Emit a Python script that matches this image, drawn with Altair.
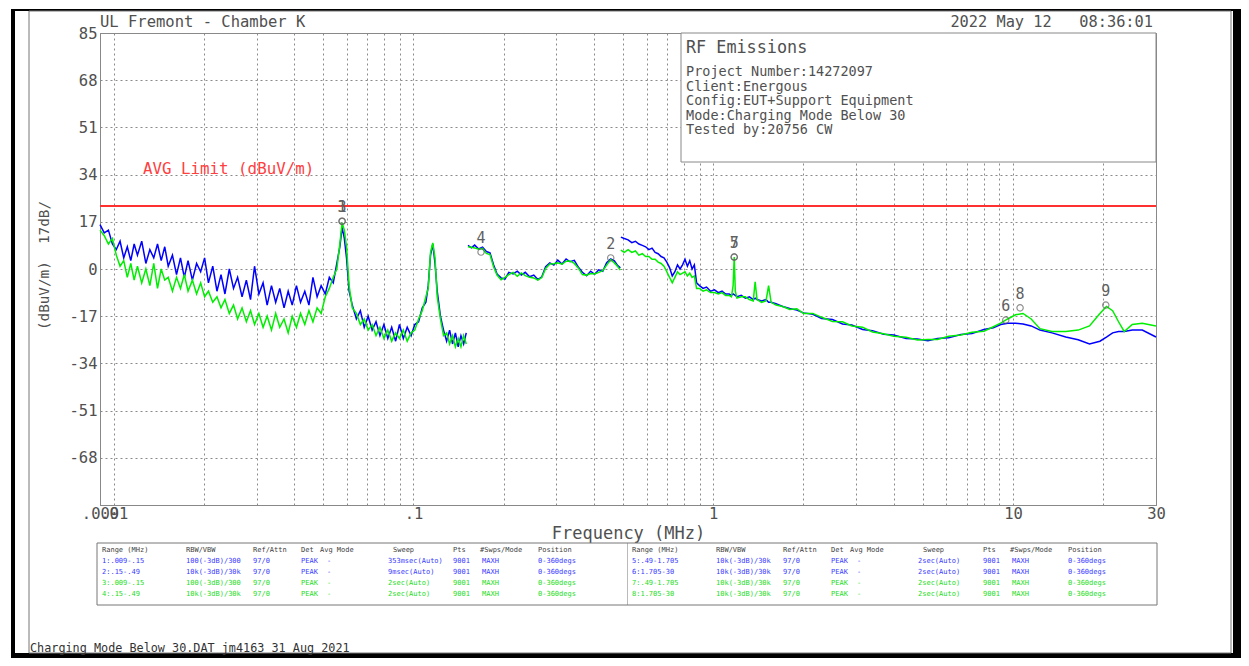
import altair as alt
import pandas as pd

# ---------------- data ----------------
seg1_freq = [0.0090, 0.0093, 0.0096, 0.0099, 0.0102, 0.0105, 0.0108, 0.0111, 0.0114, 0.0117,
             0.0120, 0.0124, 0.0128, 0.0132, 0.0136, 0.0140, 0.0144, 0.0148, 0.0152, 0.0157,
             0.0162, 0.0167, 0.0172, 0.0177, 0.0183, 0.0189, 0.0195, 0.0201, 0.0207, 0.0214,
             0.0221, 0.0228, 0.0235, 0.0243, 0.0251, 0.0259, 0.0268, 0.0277, 0.0286, 0.0295,
             0.0305, 0.0315, 0.0325, 0.0336, 0.0347, 0.0358, 0.0370, 0.0382, 0.0394, 0.0407,
             0.0420, 0.0434, 0.0448, 0.0462, 0.0477, 0.0492, 0.0508, 0.0524, 0.0540, 0.0555,
             0.0568, 0.0578, 0.0588, 0.0598, 0.0610, 0.0625, 0.0645, 0.0665, 0.0685, 0.0706,
             0.0728, 0.0750, 0.0773, 0.0797, 0.0821, 0.0846, 0.0872, 0.0898, 0.0925, 0.0953,
             0.0982, 0.1010, 0.1040, 0.1070, 0.1100, 0.1120, 0.1140, 0.1160, 0.1180, 0.1200,
             0.1230, 0.1260, 0.1290, 0.1320, 0.1350, 0.1380, 0.1410, 0.1440, 0.1470, 0.1500]
seg1_blue = [16, 13, 14, 9, 7, 10, 4, 8, 3, 9,
             5, 10, 2, 7, 4, 9, 3, 8, 1, 5,
             -2, 4, -3, 3, -4, 2, -1, 4, -5, 1,
             -8, -2, -9, 0, -7, -3, -10, -4, -11, 1,
             -9, -5, -13, -6, -12, -7, -14, -8, -13, -6,
             -12, -8, -13, -3, -10, -6, -9, -3, -5, 2,
             8, 15, 11, 4, -8, -13, -18, -15, -21, -17,
             -22, -19, -24, -20, -25, -21, -26, -20, -25, -21,
             -24, -20, -19, -14, -12, -6, 5, 9, 2, -8,
             -17, -22, -26, -22, -27, -23, -28, -24, -27, -23]
seg1_green = [14, 12, 9, 11, 5, 1, 3, -3, 2, -4,
              1, -5, 0, -6, 2, -7, 0, -4, -3, -8,
              -3, -7, -2, -8, -4, -9, -5, -10, -8, -12,
              -10, -14, -11, -16, -13, -18, -14, -19, -15, -20,
              -16, -21, -17, -22, -16, -21, -18, -23, -17, -21,
              -16, -20, -15, -19, -14, -16, -10, -7, -3, 0,
              9, 16.6, 14, 8, -6, -14, -16, -20, -18, -22,
              -20, -24, -21, -25, -22, -26, -23, -25, -22, -26,
              -23, -22, -18, -15, -10, -7, 6, 9.4, 4, -10,
              -18, -24, -23, -27, -24, -28, -25, -28, -24, -27]

seg2_freq = [0.152, 0.156, 0.160, 0.165, 0.170, 0.175, 0.180, 0.185, 0.190, 0.196,
             0.202, 0.208, 0.215, 0.222, 0.229, 0.236, 0.244, 0.252, 0.260, 0.268,
             0.276, 0.285, 0.294, 0.303, 0.313, 0.323, 0.333, 0.344, 0.355, 0.366,
             0.378, 0.390, 0.402, 0.415, 0.428, 0.441, 0.455, 0.468, 0.480, 0.490]
seg2_blue = [8.5, 7.6, 8.6, 7.2, 7.9, 6.3, 5.8, 1.5, -1.8, -3.2,
             -3.6, -1.2, -1.8, -0.8, -2.2, -1.2, -2.8, -2.2, -3.8, -2.8,
             0.8, 2.2, 1.4, 3.2, 1.8, 3.6, 2.6, 3.1, 0.6, -1.2,
             -2.4, -0.8, -1.9, -0.3, -0.8, 2.3, 3.6, 2.9, 1.2, 0.4]
seg2_green = [8.0, 7.8, 7.6, 7.1, 7.4, 5.6, 5.2, 0.8, -2.2, -3.9,
              -3.0, -2.0, -1.2, -2.6, -1.4, -2.4, -3.0, -3.2, -4.0, -3.1,
              0.2, 1.8, 1.9, 2.2, 1.7, 2.8, 2.9, 2.0, 0.3, -2.0,
              -2.2, -1.6, -1.8, -1.2, -0.6, 1.4, 3.4, 2.2, 0.9, -0.4]

seg3_freq = [0.492, 0.505, 0.520, 0.535, 0.550, 0.565, 0.580, 0.595, 0.610, 0.625,
             0.640, 0.655, 0.670, 0.685, 0.700, 0.715, 0.730, 0.745, 0.760, 0.775,
             0.790, 0.805, 0.820, 0.835, 0.850, 0.865, 0.880, 0.900, 0.925, 0.950,
             0.980, 1.010, 1.040, 1.070, 1.100, 1.130, 1.150, 1.165, 1.175, 1.185,
             1.200, 1.240, 1.280, 1.320, 1.360, 1.380, 1.400, 1.450, 1.500, 1.530,
             1.560, 1.620, 1.705]
seg3_blue = [11.5, 11, 10.5, 9.5, 10, 9, 8.5, 8, 7, 7.5,
             6, 5.5, 4.5, 4, 2.5, 0.5, -2.5, -1, 1.5, 0,
             1.5, 3.5, 1, 3, 0, 1.5, -5, -6, -7, -6.5,
             -8, -7.5, -8.5, -8, -9, -9, -9.5, -9, -9.2, -9.5,
             -10, -9.5, -10.5, -10, -11, -10.5, -11, -11.5, -11, -12,
             -12, -12.5, -13.5]
seg3_green = [6.8, 6, 7, 6, 6.5, 5, 5.5, 4.5, 4.5, 3.5,
              3.5, 2.5, 2, 1, -1, -3, -5, -3, -1, -2,
              -1.5, -1, -2.5, -1.5, -3, -2.5, -7, -7, -8, -7.5,
              -8.5, -8.5, -9, -8.5, -9.5, -9.5, -10, -6, 4.3, -8,
              -10.5, -10, -10, -11, -11.5, -4.6, -11, -12, -11.5, -6,
              -12, -13, -13.5]

seg4_freq = [1.705, 1.80, 1.90, 2.00, 2.15, 2.30, 2.50, 2.70, 2.90, 3.15,
             3.40, 3.70, 4.00, 4.40, 4.80, 5.20, 5.60, 6.10, 6.70, 7.30,
             8.00, 8.60, 9.10, 9.60, 10.2, 10.8, 11.5, 12.3, 13.5, 15.0,
             16.5, 18.0, 19.5, 20.5, 21.5, 22.5, 23.5, 25.0, 27.0, 30.0]
seg4_blue = [-13.5, -14.2, -14.8, -15.8, -16.3, -17.8, -18.2, -19.8, -20.2, -21.8,
             -22.2, -23.5, -23.8, -25.0, -25.2, -25.8, -25.0, -24.8, -23.6, -23.2,
             -21.8, -21.2, -20.0, -19.5, -19.5, -19.8, -20.5, -22.0, -23.0, -24.5,
             -25.5, -27.0, -26.0, -24.5, -23.0, -22.5, -22.5, -22.0, -22.0, -24.5]
seg4_green = [-13.5, -14.6, -14.3, -16.0, -16.0, -17.4, -18.9, -19.0, -20.5, -21.0,
              -22.7, -23.3, -24.2, -24.6, -25.6, -25.4, -25.4, -24.2, -23.8, -22.8,
              -22.4, -20.8, -19.5, -18.0, -16.5, -16.0, -18.0, -21.5, -22.5, -22.5,
              -22.0, -20.5, -16.0, -13.5, -15.0, -19.0, -22.5, -20.0, -19.5, -20.5]

limit_level = [22.7]

marker_labels = ["1", "3", "4", "2", "5", "7", "6", "8", "9"]
marker_freq = [0.0578, 0.0578, 0.168, 0.455, 1.175, 1.175, 9.46, 10.56, 20.4]
marker_level = [17.2, 17.2, 6.1, 4.0, 4.3, 4.3, -18.4, -14.0, -13.0]

x_grid_values = [0.009, 0.01, 0.02, 0.03, 0.04, 0.05, 0.06, 0.07, 0.08, 0.09,
                 0.1, 0.2, 0.3, 0.4, 0.5, 0.6, 0.7, 0.8, 0.9,
                 1, 2, 3, 4, 5, 6, 7, 8, 9, 10, 20, 30]
y_grid_values = [-85, -68, -51, -34, -17, 0, 17, 34, 51, 68, 85]

NB = "\u00a0"
title_left = "UL Fremont - Chamber K"
title_right = "2022 May 12" + NB * 3 + "08:36:01"
info_title = "RF Emissions"
info_lines = ["Project Number:14272097", "Client:Energous", "Config:EUT+Support Equipment",
              "Mode:Charging Mode Below 30", "Tested by:20756 CW"]
limit_text = "AVG Limit (dBuV/m)"
footer_text = "Charging Mode Below 30.DAT jm4163 31 Aug 2021"
y_title = "(dBuV/m)" + NB * 2 + "17dB/"

table_header = ["Range (MHz)", "RBW/VBW", "Ref/Attn", "Det", "Avg Mode", "Sweep", "Pts",
                "#Swps/Mode", "Position"]
table_left = [
    ["1:.009-.15", "100(-3dB)/300", "97/0", "PEAK", "-", "353msec(Auto)", "9001", "MAXH", "0-360degs"],
    ["2:.15-.49", "10k(-3dB)/30k", "97/0", "PEAK", "-", "9msec(Auto)", "9001", "MAXH", "0-360degs"],
    ["3:.009-.15", "100(-3dB)/300", "97/0", "PEAK", "-", "2sec(Auto)", "9001", "MAXH", "0-360degs"],
    ["4:.15-.49", "10k(-3dB)/30k", "97/0", "PEAK", "-", "2sec(Auto)", "9001", "MAXH", "0-360degs"],
]
table_right = [
    ["5:.49-1.705", "10k(-3dB)/30k", "97/0", "PEAK", "-", "2sec(Auto)", "9001", "MAXH", "0-360degs"],
    ["6:1.705-30", "10k(-3dB)/30k", "97/0", "PEAK", "-", "2sec(Auto)", "9001", "MAXH", "0-360degs"],
    ["7:.49-1.705", "10k(-3dB)/30k", "97/0", "PEAK", "-", "2sec(Auto)", "9001", "MAXH", "0-360degs"],
    ["8:1.705-30", "10k(-3dB)/30k", "97/0", "PEAK", "-", "2sec(Auto)", "9001", "MAXH", "0-360degs"],
]

# ---------------- styling / layout ----------------
W, H = 1056, 472
FONT = "DejaVu Sans Mono"
GRAY = "#505050"
BLUE = "#0000ff"
GREEN = "#00ee00"
TBL_BLUE = "#3a3aff"
TBL_GREEN = "#22dd22"

def trace_df(parts):
    frames = []
    for i, (f, v) in enumerate(parts):
        frames.append(pd.DataFrame({"freq": f, "level": v, "seg": i}))
    return pd.concat(frames, ignore_index=True)

blue_df = trace_df([(seg1_freq, seg1_blue), (seg2_freq, seg2_blue),
                    (seg3_freq, seg3_blue), (seg4_freq, seg4_blue)])
green_df = trace_df([(seg1_freq, seg1_green), (seg2_freq, seg2_green),
                     (seg3_freq, seg3_green), (seg4_freq, seg4_green)])
marker_df = pd.DataFrame({"freq": marker_freq, "level": marker_level, "label": marker_labels})
limit_df = pd.DataFrame({"level": limit_level})

x_label_expr = ("datum.value == 0.009 ? '.009' : datum.value == 0.01 ? '.01' : "
                "datum.value == 0.1 ? '.1' : datum.value == 1 ? '1' : "
                "datum.value == 10 ? '10' : datum.value == 30 ? '30' : ''")

x_axis = alt.Axis(values=x_grid_values, labelExpr=x_label_expr, grid=True, gridDash=[2, 3],
                  gridColor="#8a8a8a", gridWidth=1, ticks=False, domainColor="#888888",
                  labelFont=FONT, labelFontSize=15.5, labelColor=GRAY, labelOverlap=False,
                  labelFlush=False, labelBound=False, labelPadding=1,
                  title="Frequency (MHz)", titleFont=FONT, titleFontSize=17,
                  titleFontWeight="normal", titleColor=GRAY, titleX=528, titleY=28,
                  titleAlign="center", titleBaseline="middle")
y_axis = alt.Axis(values=y_grid_values,
                  labelExpr="datum.value == -85 ? '' : toString(datum.value)",
                  grid=True, gridDash=[2, 3], gridColor="#8a8a8a", gridWidth=1, ticks=False,
                  domainColor="#888888", labelFont=FONT, labelFontSize=15.5, labelColor=GRAY,
                  labelPadding=3, title=y_title, titleFont=FONT, titleFontSize=14.3,
                  titleFontWeight="normal", titleColor=GRAY, titleAngle=270, titleX=-56,
                  titleY=232, titleAlign="center", titleBaseline="middle")

x_scale = alt.Scale(type="log", domain=[0.009, 30], nice=False)
y_scale = alt.Scale(domain=[-85, 85], nice=False, zero=False)
X = alt.X("freq:Q", scale=x_scale, axis=x_axis)
Y = alt.Y("level:Q", scale=y_scale, axis=y_axis)

one = pd.DataFrame({"k": [0]})

def rect(x, x2, y, y2, **kw):
    return alt.Chart(one).mark_rect(**kw).encode(
        x=alt.value(x), x2=alt.value(x2), y=alt.value(y), y2=alt.value(y2))

def text(x, y, s, **kw):
    return alt.Chart(one).mark_text(text=s, **kw).encode(x=alt.value(x), y=alt.value(y))

# frame
frame = [
    rect(-89, -85, -24, 625, fill="black"),
    rect(-89, 1141, -24, -22, fill="black"),
    rect(1133, 1141, -24, 625, fill="black"),
    rect(-89, 1141, 620, 625, fill="black"),
    rect(-71, 1131, -22, 620, fill="white", fillOpacity=0, stroke="#777777", strokeWidth=1),
]

limit_rule = alt.Chart(limit_df).mark_rule(color="#ff3030", strokeWidth=2).encode(
    y=Y, x=alt.value(0), x2=alt.value(W))

blue_line = alt.Chart(blue_df).mark_line(color=BLUE, strokeWidth=1.5).encode(
    x=X, y=Y, detail="seg:N")
green_line = alt.Chart(green_df).mark_line(color=GREEN, strokeWidth=1.5).encode(
    x=X, y=Y, detail="seg:N")

marker_pts = alt.Chart(marker_df).mark_point(shape="circle", size=40, filled=False,
                                             color="#606060", strokeWidth=1.2).encode(x=X, y=Y)
marker_txt = alt.Chart(marker_df).mark_text(font=FONT, fontSize=15, color="#606060",
                                            dy=-14, baseline="middle").encode(x=X, y=Y, text="label:N")

# info box
info_box = rect(581, W, 0, 129, fill="white", stroke="#888888", strokeWidth=1)
info_rows = pd.DataFrame({"t": info_lines,
                          "py": [39 + 14.5 * i for i in range(len(info_lines))],
                          "px": [586] * len(info_lines)})
info_txt = alt.Chart(info_rows).mark_text(font=FONT, fontSize=13.5, color=GRAY, align="left",
                                          baseline="middle").encode(
    x=alt.X("px:Q", scale=None, axis=None), y=alt.Y("py:Q", scale=None, axis=None), text="t:N")

texts = [
    text(586, 15, info_title, font=FONT, fontSize=16.8, color=GRAY, align="left", baseline="middle"),
    text(0, -11, title_left, font=FONT, fontSize=15.5, color=GRAY, align="left", baseline="middle"),
    text(1053, -11, title_right, font=FONT, fontSize=15.3, color=GRAY, align="right", baseline="middle"),
    text(43, 136, limit_text, font=FONT, fontSize=15.8, color="#ff4040", align="left", baseline="middle"),
    text(-70, 615, footer_text, font=FONT, fontSize=11.8, color="#333333", align="left", baseline="middle"),
]

# table
head_off = [0, 84, 151, 199, 218, 291, 351, 378, 436]
data_off = [0, 84, 151, 199, 225, 286, 351, 380, 436]
row_y = [517, 528, 539, 550, 561]
row_col = [TBL_BLUE, TBL_BLUE, TBL_GREEN, TBL_GREEN]
recs = []
for origin, rows in [(2, table_left), (532, table_right)]:
    for j, h in enumerate(table_header):
        recs.append({"px": origin + head_off[j], "py": row_y[0], "t": h, "c": "#404040"})
    for i, r in enumerate(rows):
        for j, s in enumerate(r):
            recs.append({"px": origin + data_off[j], "py": row_y[i + 1], "t": s, "c": row_col[i]})
table_df = pd.DataFrame(recs)
table_box = rect(-3, 1057, 510, 572, fill="white", stroke="#777777", strokeWidth=1)
table_div = rect(527, 527.5, 510, 572, fill="#777777")
table_txt = alt.Chart(table_df).mark_text(font=FONT, fontSize=7, align="left",
                                          baseline="middle").encode(
    x=alt.X("px:Q", scale=None, axis=None), y=alt.Y("py:Q", scale=None, axis=None),
    text="t:N", color=alt.Color("c:N", scale=None, legend=None))

chart = alt.layer(
    *frame, table_box, table_div, limit_rule, blue_line, green_line, marker_pts, marker_txt,
    info_box, info_txt, *texts, table_txt
).properties(
    width=W, height=H,
    autosize=alt.AutoSizeParams(type="none"),
    padding={"left": 92, "top": 25, "right": 85, "bottom": 153},
    background="white",
).configure_view(stroke="#888888", strokeWidth=1)

chart.save("out.html", embed_options={"renderer": "svg", "actions": False})
